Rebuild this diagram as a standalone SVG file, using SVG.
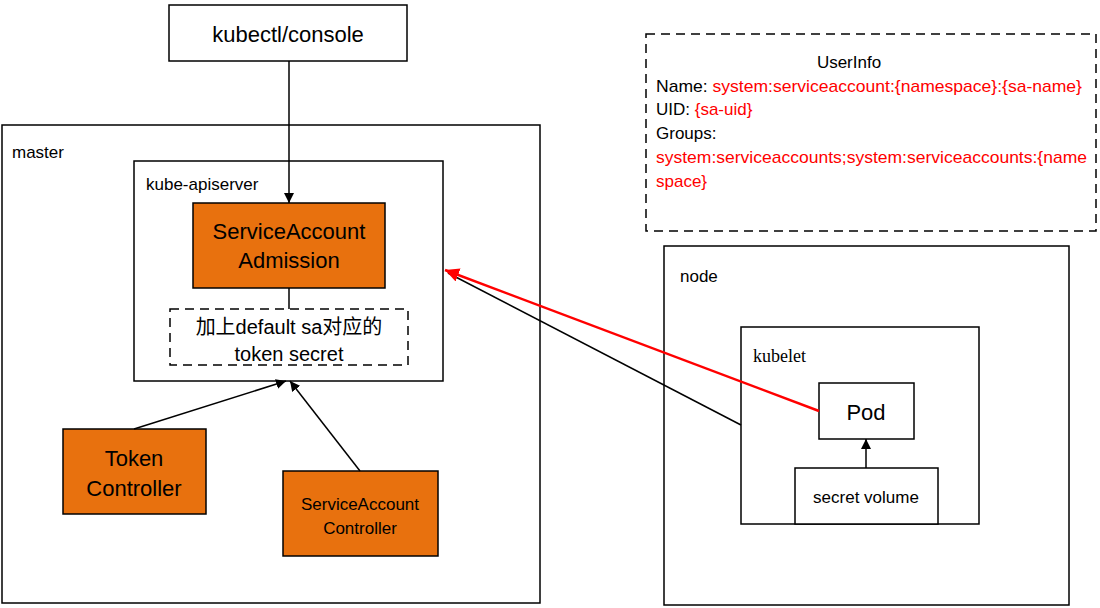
<svg xmlns="http://www.w3.org/2000/svg" width="1100" height="608" viewBox="0 0 1100 608">
<style>
.box{fill:#fff;stroke:#000;stroke-width:1.5}
.or{fill:#E8710E;stroke:#000;stroke-width:1.5}
.dash{fill:none;stroke:#000;stroke-width:1.5;stroke-dasharray:9 6}
.t{font-family:"Liberation Sans","Noto Sans CJK SC",sans-serif;fill:#000}
.c{text-anchor:middle}
.r{fill:#FF0000}
.ln{stroke:#000;stroke-width:1.5;fill:none}
</style>
<defs>
<marker id="ah" viewBox="0 0 10 10" refX="10" refY="5" markerWidth="10" markerHeight="10" markerUnits="userSpaceOnUse" orient="auto"><path d="M0,0 L10,5 L0,10 z" fill="#000"/></marker>
<marker id="ahr" viewBox="0 0 10 10" refX="10" refY="5" markerWidth="14" markerHeight="14" markerUnits="userSpaceOnUse" orient="auto"><path d="M0,0 L10,5 L0,10 z" fill="#FF0000"/></marker>
</defs>
<rect width="1100" height="608" fill="#fff"/>
<g id="master">
<rect class="box" x="2" y="125" width="538" height="478"/>
<text class="t" x="12" y="158" font-size="17">master</text>
</g>
<g id="kube-apiserver">
<rect class="box" x="134" y="161" width="309" height="220"/>
<text class="t" x="146" y="190" font-size="17">kube-apiserver</text>
</g>
<g id="node">
<rect class="box" x="664" y="246" width="405" height="359"/>
<text class="t" x="680" y="282" font-size="17">node</text>
</g>
<g id="kubelet">
<rect class="box" x="741" y="327" width="238" height="197"/>
<text x="753" y="362" font-size="18" font-family="Liberation Serif,serif">kubelet</text>
</g>
<g id="userinfo">
<rect class="dash" x="646" y="34" width="450" height="197"/>
<text class="t c" x="849" y="68" font-size="17">UserInfo</text>
<text class="t" x="656" y="92" font-size="17" textLength="426" lengthAdjust="spacingAndGlyphs">Name: <tspan class="r">system:serviceaccount:{namespace}:{sa-name}</tspan></text>
<text class="t" x="656" y="115" font-size="17">UID: <tspan class="r">{sa-uid}</tspan></text>
<text class="t" x="656" y="139" font-size="17">Groups:</text>
<text class="t r" x="656" y="163" font-size="17" textLength="431" lengthAdjust="spacingAndGlyphs">system:serviceaccounts;system:serviceaccounts:{name</text>
<text class="t r" x="656" y="187" font-size="17">space}</text>
</g>
<g id="kubectl">
<rect class="box" x="169" y="5" width="238" height="56"/>
<text class="t c" x="288" y="42" font-size="22">kubectl/console</text>
</g>
<g id="sa-admission">
<rect class="or" x="193" y="203" width="192" height="85"/>
<text class="t c" x="289" y="239" font-size="22">ServiceAccount</text>
<text class="t c" x="289" y="268" font-size="22">Admission</text>
</g>
<g id="token-secret">
<rect class="dash" x="170" y="309" width="238" height="56"/>
<text class="t c" x="289" y="334" font-size="20">加上default sa对应的</text>
<text class="t c" x="289" y="361" font-size="20">token secret</text>
</g>
<g id="token-controller">
<rect class="or" x="63" y="429" width="143" height="85"/>
<text class="t c" x="134" y="466" font-size="22">Token</text>
<text class="t c" x="134" y="496" font-size="22">Controller</text>
</g>
<g id="sa-controller">
<rect class="or" x="283" y="471" width="155" height="85"/>
<text class="t c" x="360" y="510" font-size="17">ServiceAccount</text>
<text class="t c" x="360" y="534" font-size="17">Controller</text>
</g>
<g id="pod">
<rect class="box" x="819" y="383" width="95" height="56"/>
<text class="t c" x="866" y="420" font-size="22">Pod</text>
</g>
<g id="secret-volume">
<rect class="box" x="795" y="468" width="143" height="56"/>
<text class="t c" x="866" y="503" font-size="17">secret volume</text>
</g>
<g id="connectors">
<line class="ln" x1="289" y1="61" x2="289" y2="203" marker-end="url(#ah)"/>
<line class="ln" x1="289" y1="288" x2="289" y2="309"/>
<line class="ln" x1="134" y1="429" x2="286" y2="381" marker-end="url(#ah)"/>
<line class="ln" x1="360" y1="471" x2="290" y2="381" marker-end="url(#ah)"/>
<line class="ln" x1="866" y1="468" x2="866" y2="439" marker-end="url(#ah)"/>
<line class="ln" x1="741" y1="425" x2="448" y2="273"/>
<line x1="819" y1="411" x2="445" y2="270" stroke="#FF0000" stroke-width="2.5" marker-end="url(#ahr)"/>
</g>
</svg>
